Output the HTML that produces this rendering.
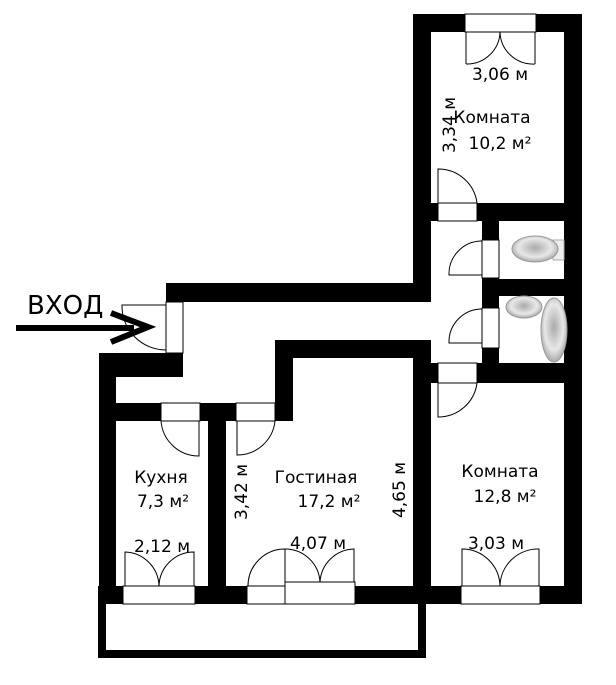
<!DOCTYPE html>
<html><head><meta charset="utf-8"><style>
html,body{margin:0;padding:0;background:#fff;}
svg{display:block;}
text{font-family:"DejaVu Sans","Liberation Sans",sans-serif;fill:#000;}
</style></head><body>
<svg width="616" height="685" viewBox="0 0 616 685" xmlns="http://www.w3.org/2000/svg">
<g fill="#000">
<rect x="413" y="14" width="169" height="18"/>
<rect x="413" y="14" width="18" height="288"/>
<rect x="564" y="14" width="18" height="590"/>
<rect x="413" y="203" width="169" height="18"/>
<rect x="482" y="203" width="17" height="180"/>
<rect x="482" y="279" width="100" height="17"/>
<rect x="413" y="363" width="169" height="20"/>
<rect x="166" y="283" width="265" height="19"/>
<rect x="166" y="283" width="17" height="94"/>
<rect x="99" y="353" width="84" height="24"/>
<rect x="99" y="353" width="17" height="251"/>
<rect x="99" y="403" width="194" height="18"/>
<rect x="275" y="340" width="156" height="18"/>
<rect x="275" y="340" width="18" height="81"/>
<rect x="413" y="340" width="18" height="264"/>
<rect x="208" y="403" width="18" height="201"/>
<rect x="98" y="586" width="484" height="18"/>
<rect x="98" y="604" width="8" height="54"/>
<rect x="418" y="604" width="8" height="54"/>
<rect x="98" y="650" width="328" height="8"/>
</g>
<g fill="#fff" stroke="#000" stroke-width="1">
<rect x="465" y="14" width="71" height="18"/>
<rect x="123" y="586" width="72" height="18"/>
<rect x="247" y="586" width="38" height="18"/>
<rect x="285" y="582" width="70" height="22"/>
<rect x="461" y="586" width="79" height="18"/>
<rect x="438" y="203" width="39" height="18"/>
<rect x="438" y="363" width="39" height="20"/>
<rect x="482" y="240" width="17" height="38"/>
<rect x="482" y="308" width="17" height="40"/>
<rect x="166" y="302" width="17" height="51"/>
<rect x="161" y="403" width="39" height="18"/>
<rect x="236" y="403" width="39" height="18"/>
</g>
<g fill="none" stroke="#000" stroke-width="1">
<path d="M466 32 V64 M535 32 V64 M466 64 A33 33 0 0 0 500 32 M535 64 A33 33 0 0 1 500 32"/>
<path d="M438 203 V169 A39 39 0 0 1 477 203"/>
<path d="M482 241 H481 A33 33 0 0 0 449 275 H482"/>
<path d="M482 309 A33 33 0 0 0 449 343 H482"/>
<path d="M438 383 V417 A39 39 0 0 0 477 383"/>
<path d="M166 305 H122 A44 44 0 0 0 166 350"/>
<path d="M199 421 V456 A38 38 0 0 1 161 421"/>
<path d="M237 421 V455 A38 38 0 0 0 275 421"/>
<path d="M125 586 V552 A35 35 0 0 1 159 586 A35 35 0 0 1 194 552 V586"/>
<path d="M248 586 A37 37 0 0 1 285 549 V586"/>
<path d="M285 549 A35 35 0 0 1 320 582 A35 35 0 0 1 354 549 V582"/>
<path d="M462 586 V549 A38 38 0 0 1 500 586 A38 38 0 0 1 539 549 V586"/>
</g>
<defs>
<radialGradient id="g" cx="50%" cy="45%" r="60%"><stop offset="0" stop-color="#aaa"/><stop offset="0.6" stop-color="#e8e8e8"/><stop offset="1" stop-color="#999"/></radialGradient>
</defs>
<rect x="553" y="240" width="11" height="20" fill="#eee" stroke="#aaa"/>
<ellipse cx="535" cy="249" rx="23" ry="13" fill="url(#g)" stroke="#999"/>
<ellipse cx="524" cy="307" rx="18" ry="11" fill="url(#g)" stroke="#999"/>
<ellipse cx="554" cy="330" rx="13" ry="32" fill="url(#g)" stroke="#999"/>
<rect x="16" y="325" width="118" height="6" fill="#000"/>
<path d="M111 313 L148 327 L111 342" fill="none" stroke="#000" stroke-width="6"/>
<text x="27" y="314" font-size="26">ВХОД</text>
<g font-size="17">
<text x="500" y="80" text-anchor="middle">3,06 м</text>
<text x="492" y="123" text-anchor="middle">Комната</text>
<text x="500" y="149" text-anchor="middle">10,2 м²</text>
<text transform="translate(455,125) rotate(-90)" text-anchor="middle">3,34 м</text>
<text x="161" y="483" text-anchor="middle">Кухня</text>
<text x="163" y="507" text-anchor="middle">7,3 м²</text>
<text x="162" y="552" text-anchor="middle">2,12 м</text>
<text x="316" y="483" text-anchor="middle">Гостиная</text>
<text x="329" y="507" text-anchor="middle">17,2 м²</text>
<text transform="translate(247,492) rotate(-90)" text-anchor="middle">3,42 м</text>
<text transform="translate(405,490) rotate(-90)" text-anchor="middle">4,65 м</text>
<text x="318" y="549" text-anchor="middle">4,07 м</text>
<text x="500" y="477" text-anchor="middle">Комната</text>
<text x="505" y="502" text-anchor="middle">12,8 м²</text>
<text x="496" y="549" text-anchor="middle">3,03 м</text>
</g>
</svg>
</body></html>
